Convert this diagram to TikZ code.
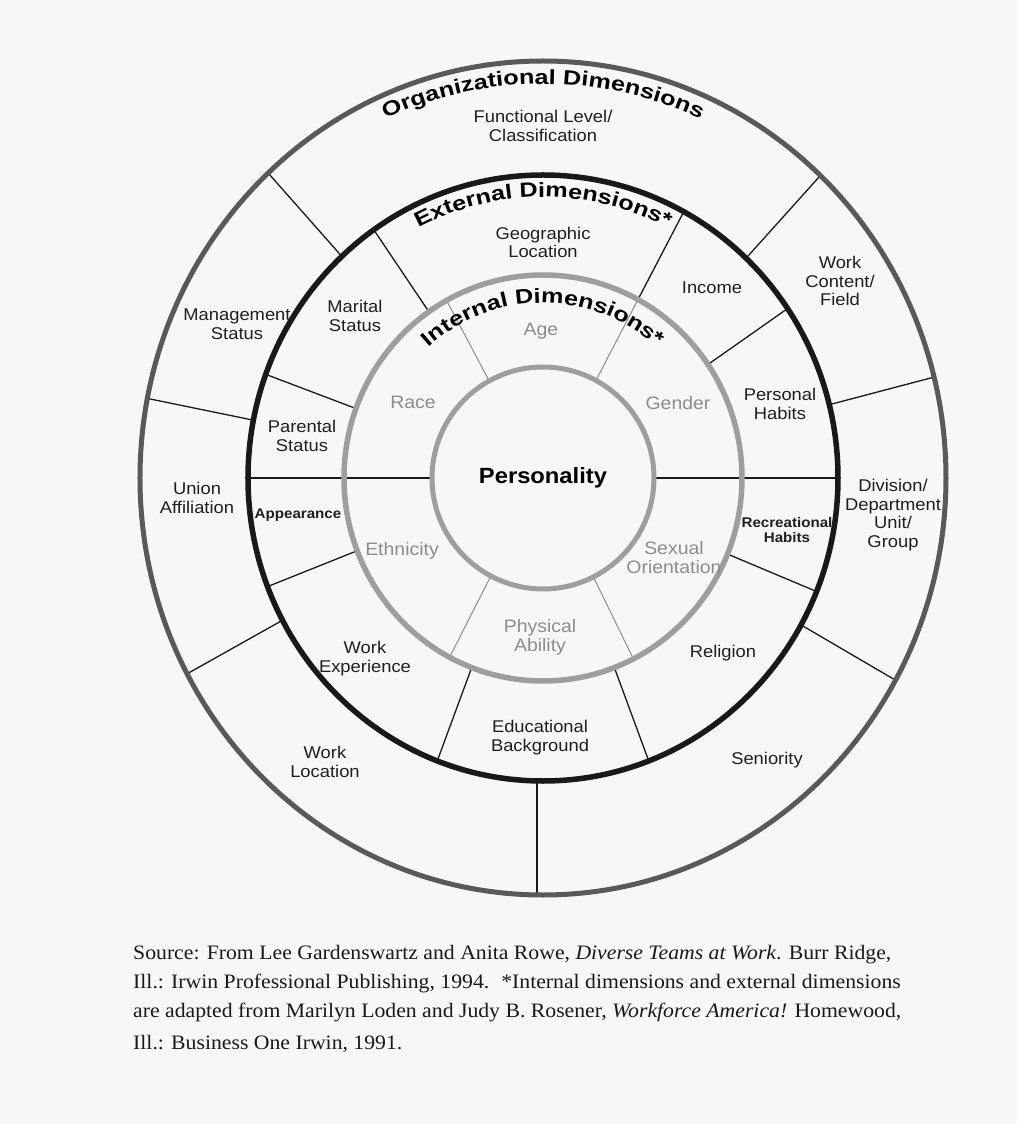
\documentclass[tikz,border=0pt]{standalone}
\usepackage{fontspec}
\setmainfont{Liberation Sans}[FakeStretch=1.08]
\newfontfamily\titlefont{Liberation Sans}[FakeStretch=1.23]
\newfontfamily\capfont{Liberation Serif}[FakeStretch=1.06]
\usetikzlibrary{decorations.text}
\newcommand{\titlestyle}{\titlefont\bfseries\fontsize{20.5}{20.5}\selectfont}

\begin{document}
\begin{tikzpicture}[x=1pt,y=1pt,
		lbl/.style={align=center,text=black!88,font=\fontsize{17}{18.5}\selectfont},
		inlbl/.style={lbl,text=black!45,font=\fontsize{18}{19}\selectfont},
		smlbl/.style={lbl,font=\fontsize{14}{15}\selectfont\bfseries},
		sep/.style={line width=1.3pt,black!90},
		insep/.style={line width=1pt,black!45},
		srcline/.style={anchor=base west,inner sep=0pt,text=black!90,font=\capfont\fontsize{20.5}{24}\selectfont}]
			%%%%% START %%%%%
			\useasboundingbox[fill=black!3] (-543,-646) rectangle (474,478);
			
			% organizational ring
			\draw[sep] (133:295 and 303) -- (133:403 and 417);
			\draw[sep] (169:295 and 303) -- (169:403 and 417);
			\draw[sep] (208:295 and 303) -- (208:403 and 417);
			\draw[sep,line width=1.8pt] (-6,-303) -- (-6,-416);
			\draw[sep] (331:295 and 303) -- (331:403 and 417);
			\draw[sep] (14:295 and 303) -- (14:403 and 417);
			\draw[sep] (46.5:295 and 303) -- (46.5:403 and 417);
			
			% external ring
			\draw[sep] (125:199 and 203) -- (125:295 and 303);
			\draw[sep] (160:199 and 203) -- (160:295 and 303);
			\draw[sep] (201:199 and 203) -- (201:295 and 303);
			\draw[sep] (249:199 and 203) -- (249:295 and 303);
			\draw[sep] (291:199 and 203) -- (291:295 and 303);
			\draw[sep] (338:199 and 203) -- (338:295 and 303);
			\draw[sep] (34:199 and 203) -- (34:295 and 303);
			\draw[sep] (61.5:199 and 203) -- (61.5:295 and 303);
			\draw[sep] (-295,0) -- (-111,0);
			\draw[sep] (111,0) -- (295,0);
			
			% internal ring
			\draw[insep] (61.5:111) -- (61.5:199 and 203);
			\draw[insep] (119:111) -- (119:199 and 203);
			\draw[insep] (242:111) -- (242:199 and 203);
			\draw[insep] (297:111) -- (297:199 and 203);
			
			% circles
			\draw[black!65,line width=5pt] (0,0) ellipse [x radius=403,y radius=417];
			\draw[black!90,line width=5.5pt] (0,0) ellipse [x radius=295,y radius=303];
			\draw[black!38,line width=5.5pt] (0,0) ellipse [x radius=199,y radius=203];
			\draw[black!38,line width=5pt] (0,0) circle (111);
			
			% ring titles
			\path[decorate,decoration={text along path,text align=center,
				text={|\titlestyle|Organizational Dimensions}}]
				(120:384 and 394) arc[start angle=120,end angle=60,x radius=384,y radius=394];
			\path[decorate,decoration={text along path,text align=center,
				text={|\titlestyle|External Dimensions*}}]
				(125:274 and 281) arc[start angle=125,end angle=55,x radius=274,y radius=281];
			\path[decorate,decoration={text along path,text align=center,
				text={|\titlestyle|Internal Dimensions*}}]
				(140:172 and 175) arc[start angle=140,end angle=40,x radius=172,y radius=175];
			
			% organizational labels
			\node[lbl] (func) at (0,352) {Functional Level/\\Classification};
			\node[lbl] (workcont) at (297,197) {Work\\Content/\\Field};
			\node[lbl] (division) at (350,-37) {Division/\\Department\\Unit/\\Group};
			\node[lbl] (senior) at (224,-282) {Seniority};
			\node[lbl] (workloc) at (-218,-284) {Work\\Location};
			\node[lbl] (union) at (-346,-20) {Union\\Affiliation};
			\node[lbl] (manage) at (-306,154) {Management\\Status};
			
			% external labels
			\node[lbl] (geo) at (0,235.5) {Geographic\\Location};
			\node[lbl] (income) at (169,190) {Income};
			\node[lbl] (personal) at (237,74) {Personal\\Habits};
			\node[smlbl] (recreat) at (244,-51.5) {Recreational\\Habits};
			\node[lbl] (religion) at (180,-175) {Religion};
			\node[lbl] (educ) at (-3,-259.5) {Educational\\Background};
			\node[lbl] (workexp) at (-178,-180.5) {Work\\Experience};
			\node[smlbl] (appear) at (-245,-37) {Appearance};
			\node[lbl] (parental) at (-241,42) {Parental\\Status};
			\node[lbl] (marital) at (-188,162) {Marital\\Status};
			
			% internal labels
			\node[inlbl] (age) at (-2,147) {Age};
			\node[inlbl] (race) at (-130,76) {Race};
			\node[inlbl] (gender) at (135,75) {Gender};
			\node[inlbl] (ethnic) at (-141,-73) {Ethnicity};
			\node[inlbl] (sexual) at (131,-79.5) {Sexual\\Orientation};
			\node[inlbl] (physical) at (-3,-159) {Physical\\Ability};
			
			\node[font=\fontsize{22}{22}\selectfont\bfseries] (core) at (0,0) {Personality};
			
			% source
			\node[srcline] (src1) at (-410,-481) {Source: From Lee Gardenswartz and Anita Rowe, \textit{Diverse Teams at Work}. Burr Ridge,};
			\node[srcline] (src2) at (-410,-510) {Ill.: Irwin Professional Publishing, 1994.\hspace{12pt}*Internal dimensions and external dimensions};
			\node[srcline] (src3) at (-410,-539) {are adapted from Marilyn Loden and Judy B. Rosener, \textit{Workforce America!} Homewood,};
			\node[srcline] (src4) at (-410,-571) {Ill.: Business One Irwin, 1991.};
			%%%%% END %%%%%
\end{tikzpicture}
\end{document}
